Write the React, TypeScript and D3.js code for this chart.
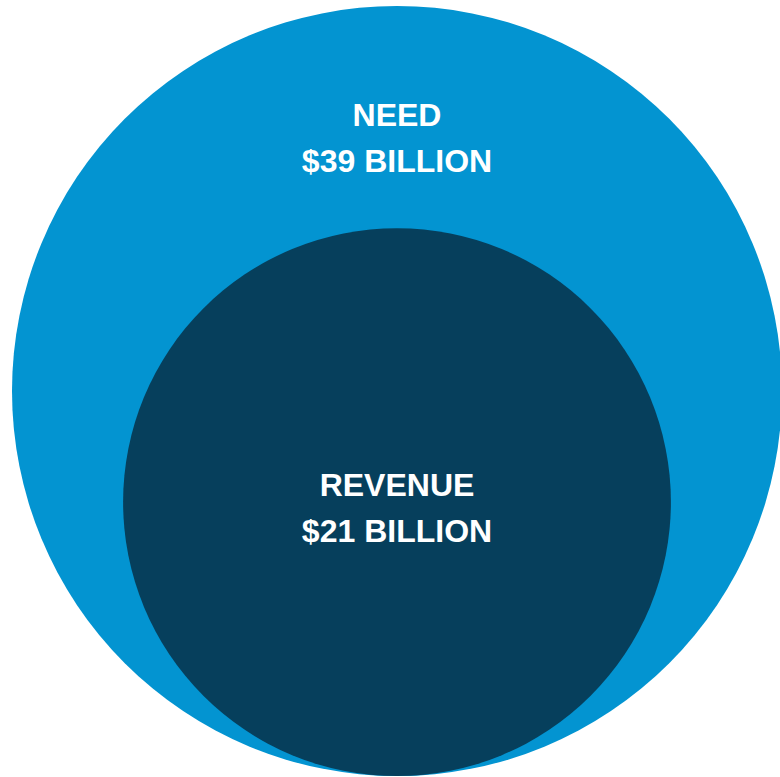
import React from 'react';
import * as d3 from 'd3';

// nested circles: need vs revenue
const names = ['NEED', 'REVENUE'];
const values = [39, 21];
const valueLabels = ['$39 BILLION', '$21 BILLION'];
const colors = ['#0394d1', '#063f5c'];

const W = 780;
const H = 777;

const App: React.FC = () => {
  const rScale = d3.scalePow().exponent(0.55).domain([0, d3.max(values) || 0]).range([0, 385]);
  const cx = 397;
  const bottom = 776;

  const circles = names.map((name, i) => {
    const r = rScale(values[i]);
    return { name, label: valueLabels[i], r, cy: bottom - r, color: colors[i], i };
  });

  return (
    <svg width={W} height={H} style={{ position: 'absolute', left: 0, top: 0, display: 'block' }}>
      <rect width={W} height={H} fill="#fff" />
      {circles.map(c => (
        <circle key={c.name} cx={cx} cy={c.cy} r={c.r} fill={c.color} />
      ))}
      {circles.map(c => {
        // outer label sits near the top of the big circle, inner label near its centre
        const y0 = c.i === 0 ? c.cy - c.r + 120 : c.cy - 6;
        return (
          <text
            key={c.name + '-t'}
            textAnchor="middle"
            fill="#fff"
            fontFamily="'Liberation Sans', Arial, sans-serif"
            fontWeight="bold"
            fontSize={32}
          >
            <tspan x={cx} y={y0}>{c.name}</tspan>
            <tspan x={cx} y={y0 + 45.5}>{c.label}</tspan>
          </text>
        );
      })}
    </svg>
  );
};

export default App;
